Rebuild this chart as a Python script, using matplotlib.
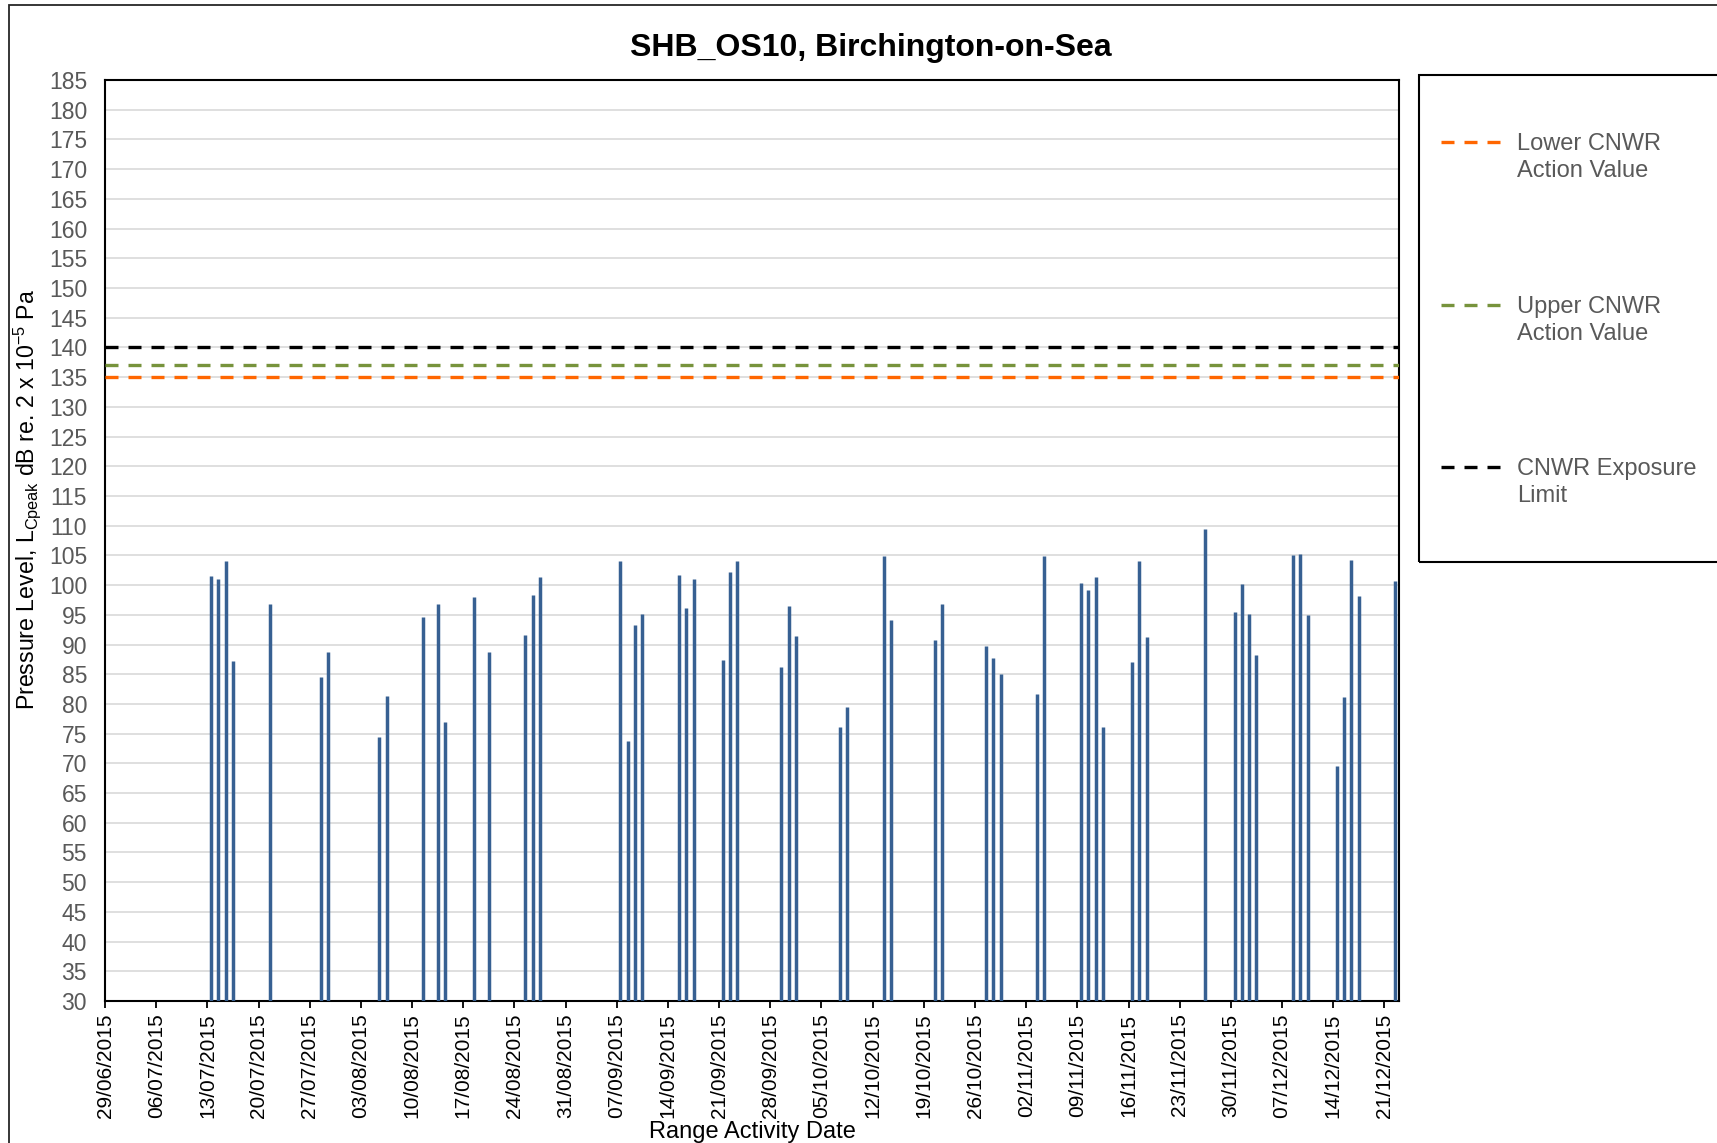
import matplotlib
matplotlib.use('Agg')
import matplotlib.pyplot as plt
import matplotlib.dates as mdates
from matplotlib.lines import Line2D
from matplotlib.patches import Rectangle
import numpy as np
import pandas as pd

plt.rcParams['font.family'] = ['Liberation Sans', 'DejaVu Sans']
plt.rcParams['mathtext.fontset'] = 'custom'
plt.rcParams['mathtext.rm'] = 'Liberation Sans'
plt.rcParams['mathtext.it'] = 'Liberation Sans:italic'

# 射撃日ごとのピーク音圧 (dB)
event_dates = [
    '2015-07-13', '2015-07-14', '2015-07-15', '2015-07-16', '2015-07-21',
    '2015-07-28', '2015-07-29', '2015-08-05', '2015-08-06', '2015-08-11',
    '2015-08-13', '2015-08-14', '2015-08-18', '2015-08-20', '2015-08-25',
    '2015-08-26', '2015-08-27', '2015-09-07', '2015-09-08', '2015-09-09',
    '2015-09-10', '2015-09-15', '2015-09-16', '2015-09-17', '2015-09-21',
    '2015-09-22', '2015-09-23', '2015-09-29', '2015-09-30', '2015-10-01',
    '2015-10-07', '2015-10-08', '2015-10-13', '2015-10-14', '2015-10-20',
    '2015-10-21', '2015-10-27', '2015-10-28', '2015-10-29', '2015-11-03',
    '2015-11-04', '2015-11-09', '2015-11-10', '2015-11-11', '2015-11-12',
    '2015-11-16', '2015-11-17', '2015-11-18', '2015-11-26', '2015-11-30',
    '2015-12-01', '2015-12-02', '2015-12-03', '2015-12-08', '2015-12-09',
    '2015-12-10', '2015-12-14', '2015-12-15', '2015-12-16', '2015-12-17',
    '2015-12-22',
]
peak_levels = [
    101.5, 101.1, 104.0, 87.3, 96.9,
    84.6, 88.7, 74.5, 81.3, 94.7,
    96.9, 77.0, 98.0, 88.7, 91.6,
    98.3, 101.4, 104.0, 73.7, 93.3,
    95.2, 101.7, 96.1, 101.1, 87.4,
    102.2, 104.0, 86.2, 96.4, 91.4,
    76.1, 79.5, 104.9, 94.2, 90.8,
    96.9, 89.8, 87.7, 85.0, 81.6,
    104.9, 100.4, 99.1, 101.4, 76.2,
    87.1, 104.0, 91.2, 109.5, 95.4,
    100.1, 95.2, 88.2, 105.0, 105.2,
    95.0, 69.6, 81.1, 104.3, 98.2,
    100.7,
]

# 基準値 (CNWR)
limit_names = ['Lower CNWR\nAction Value', 'Upper CNWR\nAction Value', 'CNWR Exposure\nLimit']
limit_values = [135, 137, 140]
limit_colors = ['#FF6600', '#77933C', '#000000']

baseline = 30
start = pd.Timestamp('2015-06-29')
end = pd.Timestamp('2015-12-23')

fig = plt.figure(figsize=(17.17, 11.43), dpi=100)
ax = fig.add_axes([0.0612, 0.1242, 0.7536, 0.8058])

x = pd.to_datetime(event_dates) + pd.Timedelta(hours=12)
ax.vlines(x, baseline, peak_levels, color='#376092', lw=2.5, zorder=3)

for v, c in zip(limit_values, limit_colors):
    ax.axhline(v, color=c, lw=2.4, dashes=(3.9, 3.0), zorder=4)

ax.set_xlim(start, end)
ax.set_ylim(30, 185)
ax.set_yticks(np.arange(30, 186, 5))
ax.yaxis.grid(True, color='#D9D9D9', lw=1.2)
ax.set_axisbelow(True)

ax.set_xticks(pd.date_range(start, '2015-12-21', freq='7D'))
ax.xaxis.set_major_formatter(mdates.DateFormatter('%d/%m/%Y'))
ax.tick_params(axis='x', rotation=90, labelsize=15, length=5, width=1.3,
               direction='out', colors='black', pad=4)
ax.tick_params(axis='y', labelsize=16.5, length=0, labelcolor='#595959', pad=13)
for s in ax.spines.values():
    s.set_linewidth(1.5)
    s.set_color('black')

W, H = 1717, 1143
fig.text(871 / W, 1 - 48 / H, 'SHB_OS10, Birchington-on-Sea', fontsize=23,
         fontweight='bold', ha='center', va='center')
ax.set_xlabel('Range Activity Date', fontsize=17, labelpad=2)
ax.set_ylabel(r'Pressure Level, L$_{\mathregular{Cpeak}}$ dB re. 2 x 10$^{\mathregular{-5}}$ Pa',
              fontsize=16.7, labelpad=4)
ax.yaxis.label.set_y(0.545)

# 外枠と凡例 (右・下は画像外まで伸びる)
fig.patches.append(Rectangle((9 / W, -0.1), 1.2, 1 - 5.5 / H + 0.1, transform=fig.transFigure,
                             fill=False, ec='#262626', lw=1.3))
fig.patches.append(Rectangle((1419 / W, 1 - 562 / H), 0.3, (562 - 75) / H,
                             transform=fig.transFigure, fill=False, ec='black', lw=1.5))
rows = [142, 305, 467]
for name, c, yp in zip(limit_names, limit_colors, rows):
    fy = 1 - yp / H
    fig.lines.append(Line2D([1441 / W, 1500 / W], [fy, fy], transform=fig.transFigure,
                            color=c, lw=2.4, dashes=(3.9, 3.0)))
    fig.text(1517 / W, fy + 9 / H, name, fontsize=17, color='#595959',
             va='top', ha='left', linespacing=1.27)

fig.savefig('out.png', dpi=100)
